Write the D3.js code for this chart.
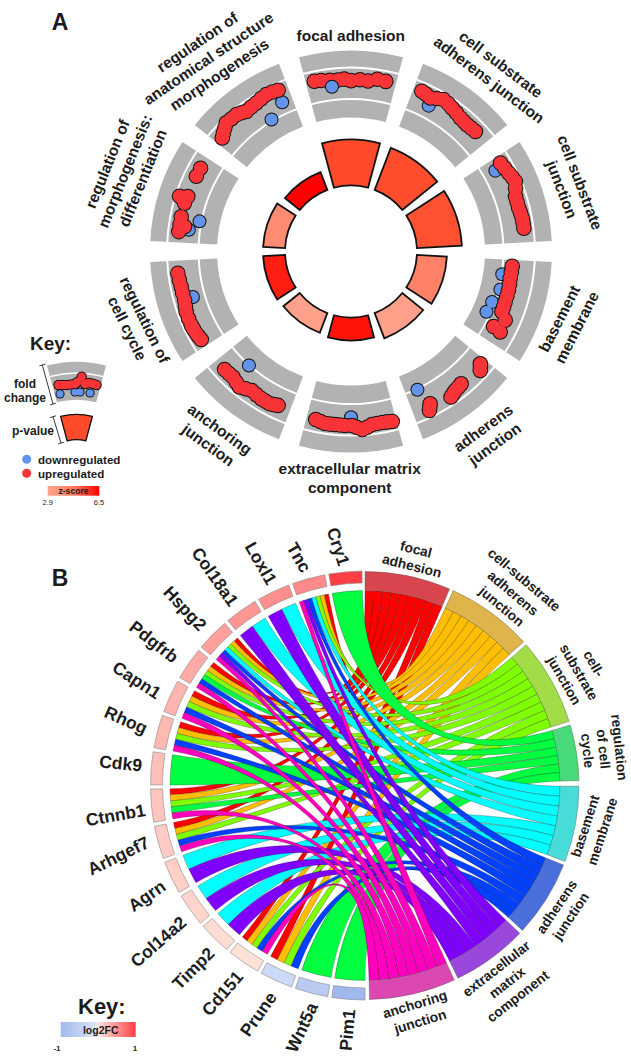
<!DOCTYPE html>
<html><head><meta charset="utf-8">
<script src="https://cdnjs.cloudflare.com/ajax/libs/d3/7.8.5/d3.min.js"></script>
<style>html,body{margin:0;padding:0;background:#fff}svg{display:block}text{font-family:"Liberation Sans",Arial,sans-serif;font-weight:700;fill:#1c1c1c}</style>
</head><body><div id="c"></div>
<script>
// ---------- Panel A data ----------
const sectorNames=["focal adhesion","cell substrate adherens junction","cell substrate junction","basement membrane","adherens junction","extracellular matrix component","anchoring junction","regulation of cell cycle","regulation of morphogenesis: differentiation","regulation of anatomical structure morphogenesis"];
const pValueScore=[11.5,11.25,11.25,7.5,6.75,5.75,5.25,5.5,5.5,4.75];
const zScores=[5.0,4.95,4.85,3.75,3.0,6.1,3.0,5.9,3.5,6.5];
// each gene: [position inside the term (-1..1), logFC]
const upGenes=[
[[-.81,.6],[-.66,.55],[-.47,.45],[-.29,.4],[-.15,.45],[0,.3],[.2,.4],[.38,.35],[.58,.6],[.77,.55]],
[[-.81,.69],[-.7,.6],[-.58,.48],[-.45,.7],[-.31,.93],[-.18,.85],[-.06,.72],[.08,.6],[.22,.46],[.33,.42],[.43,.39],[.55,.43],[.67,.48]],
[[-.84,.55],[-.7,.65],[-.56,.78],[-.45,.9],[-.34,1.0],[-.2,.78],[-.03,.53],[.1,.52],[.23,.52],[.35,.57],[.47,.62],[.58,.62],[.69,.62]],
[[-.85,-.5],[-.7,-.52],[-.56,-.54],[-.42,-.5],[-.28,-.48],[-.13,-.48],[.01,-.48],[.13,-.46],[.25,-.45],[.4,.12],[.65,-.57],[.69,.18]],
[[-.87,.33],[-.82,.53],[-.76,.73],[-.25,.42],[-.15,.5],[-.06,.56],[.02,.68],[.1,.81],[.57,.37],[.61,.62],[.65,.88]],
[[.79,.37],[.68,.47],[.57,.58],[.46,.57],[.35,.56],[.24,.57],[.13,.59],[-.02,.58],[-.12,.75],[-.24,.97],[-.35,.8],[-.46,.61],[-.57,.58],[-.69,.56],[-.8,.6],[-.91,.66]],
[[.73,.49],[.6,.46],[.48,.43],[.35,.57],[.23,.71],[.1,.5],[-.03,.3],[-.17,.36],[-.31,.43],[-.42,.44],[-.53,.45],[-.62,.35],[-.71,.25]],
[[.72,.63],[.57,.58],[.42,.53],[.27,.53],[.11,.53],[-.02,.62],[-.14,.72],[-.3,.74],[-.45,.75],[-.55,.72],[-.66,.68],[-.75,.62],[-.83,.56]],
[[.73,.4],[.53,.4],[-.01,1.13],[.04,.42],[-.12,.53],[-.43,.52],[-.6,.5],[-.76,.52],[-.63,.07]],
[[-.84,.37],[-.74,.6],[-.64,.82],[-.54,1.04],[-.4,1.0],[-.26,.98],[-.15,.82],[-.05,.66],[.09,.72],[.23,.78],[.37,.88],[.51,.97],[.65,.92],[.78,.85]]
];
const downGenes=[
[[-.44,-.15]],
[[-.53,-.2]],
[[-.75,-.18]],
[[-.63,-1.3],[-.25,-1.19],[.11,-1.58],[.4,-1.72]],
[[.69,-1.26]],
[[0,-.16]],
[[.39,-1.3]],
[[.13,-.27]],
[[-.45,-1.17],[-.69,-.35]],
[[.75,-.28],[.33,-1.2]]
];
const keyUp=[[-.75,-.4],[-.58,-.5],[-.41,-.6],[-.23,-.56],[-.06,-.52],[.03,-.2],[.2,.65],[.35,-.46],[.45,-.3],[.55,-.2],[.7,-.26],[.83,-.33]];
const keyDown=[[-.76,-1.83],[-.07,-1.78],[.16,-1.77],[.62,-1.77]];
const keyPValue=11.25, keyZ=5.0;
const zTicks=["2.9","6.5"];

// ---------- Panel B data ----------
const terms=["focal adhesion","cell-substrate adherens junction","cell-substrate junction","regulation of cell cycle","basement membrane","adherens junction","extracellular matrix component","anchoring junction"];
const termSizes=[23.3,23.5,23.7,15.1,20.6,20.8,20.6,23.5];
const genes=["Pim1","Wnt5a","Prune","Cd151","Timp2","Col14a2","Agrn","Arhgef7","Ctnnb1","Cdk9","Rhog","Capn1","Pdgfrb","Hspg2","Col18a1","Loxl1","Tnc","Cry1"];
const log2FC=[-1,-.6,-.3,.03,.06,.1,.13,.16,.19,.23,.27,.3,.36,.42,.48,.52,.55,1];
const geneTerms=[[3],[3],[0,1,2,5],[0,1,2,5,7],[4,6],[4,6],[4,6],[0,1,2,5,7],[0,1,2,3,7],[3],[0,1,2,5,7],[0,1,2,5,7],[0,1,2,3,5,7],[0,1,2,4,5,6,7],[4,6],[4,6],[0,1,2,4,5,6,7],[3]];
const ribbonColors=["#ff0000","#ffbf00","#80ff00","#00ff40","#00ffff","#0040ff","#8000ff","#ff00bf"];
const termColors=["#d9454f","#dfb44a","#a2dd48","#48d97a","#48dcd8","#4a6fdb","#9a48dc","#dc48b2"];
const logTicks=["-1","1"];

// ---------- layout (not data) ----------
const rad=d=>d*Math.PI/180;
const svg=d3.select("#c").append("svg").attr("width",631).attr("height",1057);
function label(lines,cx,cy,rot,fs,lh){
  const g=svg.append("g").attr("transform",`translate(${cx},${cy}) rotate(${rot})`);
  g.selectAll("text").data(lines).join("text").attr("text-anchor","middle").attr("font-size",fs)
   .attr("y",(d,i)=>(i-(lines.length-1)/2)*lh).attr("dy",".35em").text(d=>d);
}
const sectorAngles=d3.scaleLinear().domain([0,10]).range([0,360]);
const halfW=15;
function drawBlob(g,pts,col,rr,theta,rs,hw){
  const pos=p=>{const a=rad(theta+p[0]*hw),r=rs(p[1]);return [r*Math.sin(a),-r*Math.cos(a)]};
  g.append("g").selectAll("circle").data(pts).join("circle").attr("cx",d=>pos(d)[0]).attr("cy",d=>pos(d)[1]).attr("r",rr+1).attr("fill","#111");
  g.append("g").selectAll("circle").data(pts).join("circle").attr("cx",d=>pos(d)[0]).attr("cy",d=>pos(d)[1]).attr("r",rr).attr("fill",col);
}
const RED="#f83438",BLUE="#6494ea";
function track(g,theta,rIn,rOut,rA,rB,w){
  const arc=d3.arc();
  g.append("path").attr("fill","#b2b2b2").attr("d",arc({innerRadius:rIn,outerRadius:rOut,startAngle:rad(theta-halfW),endAngle:rad(theta+halfW)}));
  [rA,rB].forEach(r=>g.append("path").attr("fill","#fff").attr("d",arc({innerRadius:r-w/2,outerRadius:r+w/2,startAngle:rad(theta-halfW-.3),endAngle:rad(theta+halfW+.3)})));
}
const zColor=d3.scaleLinear().domain([2.9,5,6.5]).range(["#ffa58f","#ff4b2b","#ff0000"]);
// Panel A
const gA=svg.append("g").attr("transform","translate(351,251.5)");
const fcScale=d3.scaleLinear().domain([-3,3]).range([134,201]);
const barR=d3.scaleLinear().domain([0,12]).range([66,114]);
sectorNames.forEach((n,i)=>{
  const th=sectorAngles(i);
  track(gA,th,134,201,152.5,184,2);
  if(i===0){drawBlob(gA,upGenes[i],RED,6.8,th,fcScale,halfW);drawBlob(gA,downGenes[i],BLUE,6,th,fcScale,halfW);}
  else{drawBlob(gA,downGenes[i],BLUE,6,th,fcScale,halfW);drawBlob(gA,upGenes[i],RED,6.8,th,fcScale,halfW);}
  gA.append("path").attr("d",d3.arc()({innerRadius:66,outerRadius:barR(pValueScore[i]),startAngle:rad(th-halfW),endAngle:rad(th+halfW)}))
    .attr("fill",zColor(zScores[i])).attr("stroke","#111").attr("stroke-width",1.8).attr("stroke-linejoin","miter");
});
const fa=15.5,la=19.5;
label(["focal adhesion"],350.8,36,0,fa,la);
label(["cell substrate","adherens junction"],495,72,37,fa,la);
label(["cell substrate","junction"],571,186,69,fa,la);
label(["basement","membrane"],568,323,-63,fa,la);
label(["adherens","junction"],489,436,-36,fa,la);
label(["extracellular matrix","component"],349.7,478,0,fa,la);
label(["anchoring","junction"],214,437,36,fa,la);
label(["regulation of","cell cycle"],136,324,64,fa,la);
label(["regulation of","morphogenesis:","differentiation"],125,171,-68,fa,19);
label(["regulation of","anatomical structure","morphogenesis"],208.3,58.3,-34,fa,la);
label(["A"],60,22,0,23,20);
// Key A
const gK=svg.append("g").attr("transform","translate(76.5,475.7)");
const keyFc=d3.scaleLinear().domain([-3,3]).range([76,114]);
track(gK,0,76,114,92,102.7,1.5);
drawBlob(gK,keyDown,BLUE,3.6,0,keyFc,15);
drawBlob(gK,keyUp,RED,4.2,0,keyFc,15);
const keyBar=d3.scaleLinear().domain([0,12]).range([36,63]);
gK.append("path").attr("d",d3.arc()({innerRadius:36,outerRadius:keyBar(keyPValue),startAngle:rad(-15),endAngle:rad(15)}))
  .attr("fill",zColor(keyZ)).attr("stroke","#111").attr("stroke-width",1.3);
svg.append("text").attr("x",30).attr("y",350).attr("font-size",19).text("Key:");
label(["fold","change"],25,391,0,12,14.5);
label(["p-value"],33,431,0,12,14);
const bracket=(x1,y1,x2,y2)=>{
  const dx=x2-x1,dy=y2-y1,L=Math.hypot(dx,dy),nx=-dy/L*3,ny=dx/L*3;
  svg.append("path").attr("d",`M${x1},${y1}L${x2},${y2}M${x1-nx},${y1-ny}L${x1+nx},${y1+ny}M${x2-nx},${y2-ny}L${x2+nx},${y2+ny}`).attr("stroke","#222").attr("stroke-width",.9).attr("fill","none");
};
bracket(42.3,365,53,404);bracket(53,416.7,61,443);
svg.append("circle").attr("cx",26.7).attr("cy",459.3).attr("r",4.5).attr("fill",BLUE);
svg.append("circle").attr("cx",26.7).attr("cy",473.3).attr("r",4.5).attr("fill",RED);
svg.append("text").attr("x",38).attr("y",463.5).attr("font-size",11.6).text("downregulated");
svg.append("text").attr("x",38).attr("y",477.5).attr("font-size",11.6).text("upregulated");
const defs=svg.append("defs");
const lgA=defs.append("linearGradient").attr("id","gz");
[[0,"#ffa58f"],[.5,"#ff7a5c"],[1,"#ff0000"]].forEach(s=>lgA.append("stop").attr("offset",s[0]).attr("stop-color",s[1]));
svg.append("rect").attr("x",47.7).attr("y",486).attr("width",51.6).attr("height",9.7).attr("fill","url(#gz)");
label(["z-score"],73.5,490.8,0,8.6,10);
svg.append("text").attr("x",47.7).attr("y",505).attr("text-anchor","middle").attr("font-size",7.5).attr("style","font-weight:400").text(zTicks[0]);
svg.append("text").attr("x",99).attr("y",505).attr("text-anchor","middle").attr("font-size",7.5).attr("style","font-weight:400").text(zTicks[1]);

// Panel B
const gB=svg.append("g").attr("transform","translate(365,785.5)");
const geneScale=d3.scaleBand().domain(genes).range([180,359.2]).paddingInner(.11).paddingOuter(0);
const termStart=[];let cum=0;
termSizes.forEach((s,i)=>{termStart.push(cum);cum+=s+(i===3?1.5:1.05);});
const termPos=d3.scaleLinear().domain([0,cum-1.05]).range([0,178.8]);
const fcDomain=[-1,-.05,0,1],fcRange=["#a0b8ec","#dbe6f9","#ffe6dc","#ff3f45"];
const fcColor=d3.scaleLinear().domain(fcDomain).range(fcRange);
const members=terms.map((t,ti)=>genes.map((g,gi)=>gi).filter(gi=>geneTerms[gi].includes(ti)));
// ribbon with two cubic sides whose control points sit on the radius of each end
const R=195,K=.4;
function ribbonPath(s0,s1,t0,t1){
  const pt=(a,r)=>[r*Math.sin(a),-r*Math.cos(a)];
  const p=d3.path(),A=a=>a-Math.PI/2;
  const side=(a,b)=>{const c1=pt(a,R*K),c2=pt(b,R*K),e=pt(b,R);p.bezierCurveTo(c1[0],c1[1],c2[0],c2[1],e[0],e[1]);};
  const st=pt(s0,R);p.moveTo(st[0],st[1]);
  p.arc(0,0,R,A(s0),A(s1));
  side(s1,t0);
  p.arc(0,0,R,A(t0),A(t1));
  side(t1,s0);
  p.closePath();
  return p.toString();
}
d3.range(terms.length).forEach(ti=>{
  const ms=members[ti].slice().reverse();
  const a0=termPos(termStart[ti]),a1=termPos(termStart[ti]+termSizes[ti]),step=(a1-a0)/ms.length;
  ms.forEach((gi,k)=>{
    const list=geneTerms[gi],p=list.slice().sort((a,b)=>a-b).reverse().indexOf(ti);
    const gs=geneScale(genes[gi]),w=geneScale.bandwidth()/list.length;
    gB.append("path").attr("fill",ribbonColors[ti]).attr("stroke","#000").attr("stroke-opacity",.55).attr("stroke-width",.45)
      .attr("d",ribbonPath(rad(a0+k*step),rad(a0+(k+1)*step),rad(gs+p*w),rad(gs+(p+1)*w)));
  });
});
terms.forEach((t,ti)=>{
  const a0=termPos(termStart[ti]),a1=termPos(termStart[ti]+termSizes[ti]);
  gB.append("path").attr("fill",termColors[ti]).attr("stroke","#555").attr("stroke-width",.4)
    .attr("d",d3.arc()({innerRadius:195,outerRadius:214,startAngle:rad(a0),endAngle:rad(a1)}));
});
genes.forEach((g,i)=>{
  gB.append("path").attr("fill",fcColor(log2FC[i])).attr("stroke","#888").attr("stroke-width",.6)
    .attr("d",d3.arc()({innerRadius:202.5,outerRadius:214.5,startAngle:rad(geneScale(g)),endAngle:rad(geneScale(g)+geneScale.bandwidth())}));
});
const fg=17.5;
[["Cry1",338.3,546.7,72],["Tnc",299,557.3,60],["Loxl1",261,563.3,60],["Col18a1",215,576.7,55],["Hspg2",185,608.3,47],["Pdgfrb",154,641.7,38],["Capn1",136.7,680,33],["Rhog",126,720,24],["Cdk9",120.7,763.3,6],["Ctnnb1",115.7,815,-10],["Arhgef7",118.3,855.7,-26],["Agrn",146.7,895.7,-35],["Col14a2",158.3,941.7,-41],["Timp2",193.3,968.3,-45],["Cd151",222.3,993.3,-49],["Prune",258.3,1014,-55],["Wnt5a",301.7,1027.3,-65],["Pim1",347.3,1030,-85]]
 .forEach(l=>label([l[0]],l[1],l[2],l[3],fg,20));
const ft=13.8;
label(["focal","adhesion"],414,557.5,14,ft,17);
label(["cell-substrate","adherens","junction"],513,593,40,ft,17.5);
label(["cell-","substrate","junction"],579,672,60,ft,17);
label(["regulation","of cell","cycle"],603.5,749,84,ft,16);
label(["basement","membrane"],593.7,828.7,-72,ft,18);
label(["adherens","junction"],563.7,911.3,-56,ft,17);
label(["extracellular","matrix","component"],507,982.5,-38,ft,17.5);
label(["anchoring","junction"],417.5,1012.8,-17,ft,18);
label(["B"],60,578,0,23,20);
// Key B
svg.append("text").attr("x",78).attr("y",1014).attr("font-size",22).text("Key:");
const lgB=defs.append("linearGradient").attr("id","gf");
fcDomain.forEach((v,i)=>lgB.append("stop").attr("offset",(v+1)/2).attr("stop-color",fcRange[i]));
svg.append("rect").attr("x",60.7).attr("y",1022).attr("width",75).attr("height",15).attr("fill","url(#gf)");
label(["log2FC"],100.7,1030.5,0,10.5,10);
svg.append("text").attr("x",57).attr("y",1051).attr("text-anchor","middle").attr("font-size",8).text(logTicks[0]);
svg.append("text").attr("x",135).attr("y",1051).attr("text-anchor","middle").attr("font-size",8).text(logTicks[1]);
</script></body></html>
